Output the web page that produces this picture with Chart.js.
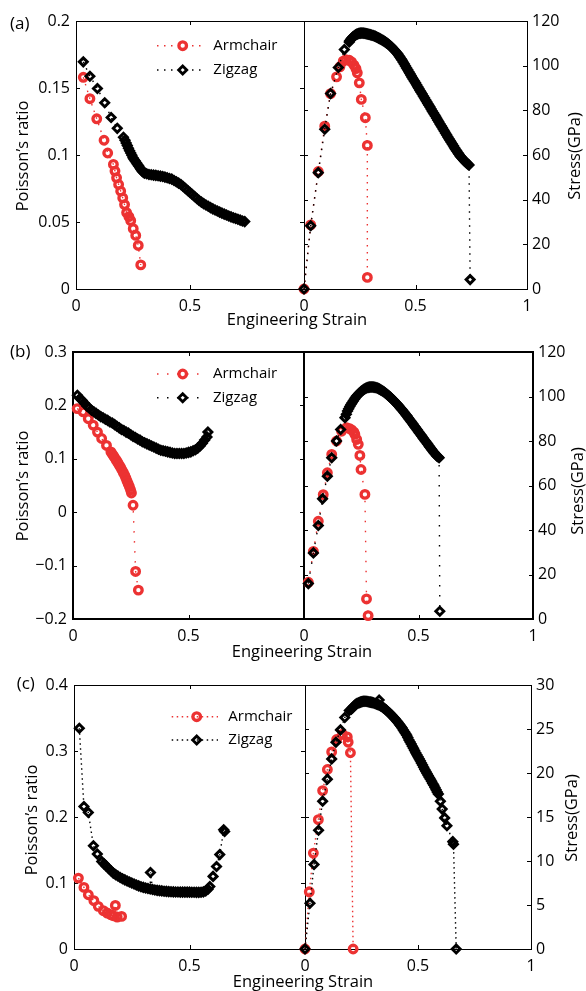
<!DOCTYPE html>
<html><head><meta charset="utf-8"><title>Poisson's ratio and stress versus engineering strain</title>
<script src="https://cdn.jsdelivr.net/npm/chart.js@4.4.1/dist/chart.umd.min.js"></script>
<style>
html,body{margin:0;padding:0;background:#fff;}
body{width:586px;height:991px;position:relative;overflow:hidden;}
canvas{position:absolute;left:0;}
</style></head><body>
<canvas id="pa" width="586" height="330" style="top:0px"></canvas>
<canvas id="pb" width="586" height="335" style="top:330px"></canvas>
<canvas id="pc" width="586" height="326" style="top:665px"></canvas>
<script>
// ---------------- data ----------------
const SERIES = ['Armchair', 'Zigzag'];
const STRAIN_TICKS = [0, 0.5, 1];
const A_POIS_TICKS = [0, 0.05, 0.1, 0.15, 0.2];
const A_STRESS_TICKS = [0, 20, 40, 60, 80, 100, 120];
const B_POIS_TICKS = [-0.2, -0.1, 0, 0.1, 0.2, 0.3];
const B_STRESS_TICKS = [0, 20, 40, 60, 80, 100, 120];
const C_POIS_TICKS = [0, 0.1, 0.2, 0.3, 0.4];
const C_STRESS_TICKS = [0, 5, 10, 15, 20, 25, 30];

// (a)
const A_ARM_POIS_X = [0.032,0.061,0.091,0.123,0.139,0.164,0.171,0.178,0.187,0.196,0.205,0.213,0.222,0.232,0.240,0.251,0.262,0.273,0.284];
const A_ARM_POIS_Y = [0.158,0.142,0.127,0.111,0.1015,0.093,0.088,0.083,0.078,0.073,0.068,0.063,0.057,0.054,0.051,0.045,0.040,0.0325,0.018];
const A_ZIG_POIS_X = [0.032,0.061,0.094,0.126,0.154,0.181,0.208,0.215,0.22,0.225,0.23,0.235,0.24,0.245,0.25,0.255,0.26,0.265,0.27,0.275,0.28,0.285,0.29,0.295,0.30,0.31,0.32,0.33,0.34,0.35,0.36,0.37,0.38,0.39,0.40,0.41,0.42,0.43,0.44,0.45,0.46,0.47,0.48,0.49,0.50,0.51,0.52,0.53,0.54,0.55,0.56,0.57,0.58,0.59,0.60,0.61,0.62,0.63,0.64,0.65,0.66,0.67,0.68,0.69,0.70,0.71,0.72,0.73,0.74];
const A_ZIG_POIS_Y = [0.1695,0.1588,0.1496,0.139,0.128,0.1199,0.1132,0.111,0.109,0.107,0.105,0.1032,0.1015,0.0998,0.098,0.0967,0.0955,0.0942,0.093,0.0917,0.0905,0.0892,0.088,0.0871,0.0865,0.086,0.0855,0.0853,0.085,0.0848,0.0845,0.0842,0.084,0.0835,0.083,0.0825,0.082,0.081,0.080,0.079,0.078,0.0765,0.075,0.0735,0.072,0.0705,0.069,0.0675,0.066,0.0648,0.0637,0.0627,0.0617,0.0607,0.0598,0.059,0.0582,0.0574,0.0566,0.0559,0.0552,0.0545,0.0538,0.0532,0.0526,0.052,0.0514,0.0508,0.0503];
const A_ARM_STRESS_X = [0,0.030,0.064,0.093,0.119,0.146,0.161,0.176,0.188,0.203,0.213,0.224,0.233,0.239,0.248,0.257,0.275,0.284,0.284];
const A_ARM_STRESS_Y = [0,28.7,52.6,72.9,87.5,95,99.5,102,102.7,102.4,101.7,100.2,98.7,96.8,92.3,84.9,76.7,64.3,5.2];
const A_ZIG_STRESS_X = [0,0.03,0.064,0.093,0.119,0.154,0.181,0.203,0.205,0.21,0.215,0.22,0.225,0.23,0.235,0.24,0.245,0.25,0.255,0.26,0.265,0.27,0.275,0.28,0.285,0.29,0.295,0.30,0.305,0.31,0.315,0.32,0.325,0.33,0.335,0.34,0.345,0.35,0.355,0.36,0.365,0.37,0.375,0.38,0.385,0.39,0.395,0.40,0.405,0.41,0.415,0.42,0.425,0.43,0.435,0.44,0.445,0.45,0.455,0.46,0.465,0.47,0.475,0.48,0.485,0.49,0.495,0.50,0.505,0.51,0.515,0.52,0.525,0.53,0.535,0.54,0.545,0.55,0.555,0.56,0.565,0.57,0.575,0.58,0.585,0.59,0.595,0.60,0.605,0.61,0.615,0.62,0.625,0.63,0.635,0.64,0.645,0.65,0.655,0.66,0.665,0.67,0.675,0.68,0.685,0.69,0.695,0.70,0.705,0.71,0.715,0.72,0.725,0.73,0.735,0.74,0.745];
const A_ZIG_STRESS_Y = [0,28.3,52.1,71.5,87.5,99.2,107.2,110.6,111.2,111.8,112.4,112.9,113.3,113.7,114.0,114.2,114.4,114.5,114.55,114.6,114.55,114.5,114.4,114.3,114.2,114.1,113.95,113.8,113.65,113.5,113.3,113.1,112.85,112.6,112.35,112.1,111.8,111.5,111.2,110.9,110.55,110.2,109.85,109.5,109.05,108.6,108.1,107.6,107.05,106.5,105.9,105.3,104.6,103.9,103.15,102.4,101.55,100.7,99.85,99.0,98.15,97.3,96.45,95.6,94.75,93.9,93.1,92.3,91.45,90.6,89.75,88.9,88.1,87.3,86.45,85.6,84.75,83.9,83.1,82.3,81.45,80.6,79.75,78.9,78.1,77.3,76.45,75.6,74.75,73.9,73.1,72.3,71.45,70.6,69.75,68.9,68.1,67.3,66.5,65.7,64.9,64.1,63.3,62.5,61.75,61.0,60.3,59.6,59.0,58.4,57.85,57.3,56.8,56.3,55.9,55.5,4.2];

// (b)
const B_ARM_POIS_X = [0.018,0.044,0.066,0.0875,0.106,0.124,0.145,0.164,0.17,0.176,0.182,0.188,0.194,0.2,0.206,0.212,0.218,0.224,0.229,0.234,0.239,0.244,0.249,0.253,0.26,0.271,0.283];
const B_ARM_POIS_Y = [0.194,0.188,0.175,0.163,0.150,0.138,0.125,0.113,0.109,0.105,0.101,0.097,0.093,0.088,0.084,0.079,0.074,0.069,0.064,0.058,0.053,0.048,0.042,0.036,0.013,-0.111,-0.146];
const B_ZIG_POIS_X = [0.019,0.03,0.04,0.05,0.06,0.07,0.08,0.09,0.10,0.11,0.12,0.13,0.14,0.15,0.16,0.17,0.18,0.19,0.20,0.21,0.22,0.23,0.24,0.25,0.26,0.27,0.28,0.29,0.30,0.31,0.32,0.33,0.34,0.35,0.36,0.37,0.38,0.39,0.40,0.41,0.42,0.43,0.44,0.45,0.46,0.47,0.48,0.49,0.50,0.51,0.52,0.53,0.54,0.55,0.56,0.57,0.58,0.584];
const B_ZIG_POIS_Y = [0.219,0.213,0.209,0.204,0.199,0.195,0.191,0.188,0.185,0.182,0.179,0.177,0.174,0.172,0.169,0.167,0.164,0.161,0.158,0.155,0.153,0.150,0.148,0.145,0.142,0.140,0.137,0.135,0.132,0.130,0.128,0.126,0.124,0.122,0.120,0.118,0.116,0.115,0.114,0.113,0.112,0.111,0.110,0.110,0.110,0.110,0.110,0.111,0.112,0.113,0.115,0.117,0.120,0.124,0.129,0.135,0.141,0.150];
const B_ARM_STRESS_X = [0.019,0.041,0.0625,0.084,0.102,0.121,0.142,0.164,0.186,0.2,0.208,0.218,0.222,0.23,0.237,0.244,0.249,0.266,0.273,0.28];
const B_ARM_STRESS_Y = [16.5,30.4,43.9,55.9,65.7,74,80,84.4,86,85.5,85,84,83,80.7,78.5,73.5,67.2,56,9,1.5];
const B_ZIG_STRESS_X = [0.019,0.041,0.0625,0.081,0.102,0.121,0.142,0.16,0.179,0.185,0.19,0.195,0.20,0.205,0.21,0.215,0.22,0.225,0.23,0.235,0.24,0.245,0.25,0.255,0.26,0.265,0.27,0.275,0.28,0.285,0.29,0.295,0.30,0.305,0.31,0.315,0.32,0.325,0.33,0.335,0.34,0.345,0.35,0.355,0.36,0.365,0.37,0.375,0.38,0.385,0.39,0.395,0.40,0.405,0.41,0.415,0.42,0.425,0.43,0.435,0.44,0.445,0.45,0.455,0.46,0.465,0.47,0.475,0.48,0.485,0.49,0.495,0.50,0.505,0.51,0.515,0.52,0.525,0.53,0.535,0.54,0.545,0.55,0.555,0.56,0.565,0.57,0.575,0.58,0.585,0.59,0.593];
const B_ZIG_STRESS_Y = [15.9,29.7,42,54,64.2,72.5,80,85.2,90.5,92.0,93.5,94.5,95.5,96.4,97.2,98.0,98.8,99.5,100.2,100.75,101.3,101.8,102.3,102.7,103.1,103.4,103.7,103.9,104.1,104.2,104.3,104.3,104.3,104.2,104.1,103.95,103.8,103.55,103.3,103.0,102.7,102.35,102.0,101.6,101.2,100.75,100.3,99.85,99.4,98.9,98.4,97.85,97.3,96.75,96.2,95.6,95.0,94.4,93.8,93.15,92.5,91.85,91.2,90.5,89.8,89.1,88.4,87.7,87.0,86.3,85.6,84.9,84.2,83.5,82.8,82.1,81.4,80.7,80.0,79.3,78.6,77.9,77.2,76.5,75.8,75.15,74.5,73.9,73.3,72.9,72.5,3.5];

// (c)
const C_ARM_POIS_X = [0.019,0.043,0.062,0.086,0.105,0.127,0.144,0.159,0.17,0.179,0.187,0.206];
const C_ARM_POIS_Y = [0.1074,0.0933,0.0822,0.0732,0.0646,0.058,0.0545,0.052,0.0504,0.066,0.0484,0.0494];
const C_ZIG_POIS_X = [0.023,0.043,0.062,0.084,0.101,0.12,0.13,0.14,0.15,0.16,0.17,0.18,0.19,0.20,0.21,0.22,0.23,0.24,0.25,0.26,0.27,0.28,0.29,0.30,0.31,0.32,0.33,0.331,0.34,0.35,0.36,0.37,0.38,0.39,0.40,0.41,0.42,0.43,0.44,0.45,0.46,0.47,0.48,0.49,0.50,0.51,0.52,0.53,0.54,0.55,0.56,0.57,0.58,0.588,0.602,0.617,0.631,0.648,0.652];
const C_ZIG_POIS_Y = [0.3344,0.2159,0.2068,0.1564,0.1438,0.1326,0.129,0.1255,0.122,0.1185,0.115,0.1127,0.1105,0.1083,0.1065,0.1048,0.1031,0.1015,0.0999,0.0984,0.097,0.0956,0.0944,0.0933,0.0925,0.0917,0.0909,0.116,0.0902,0.0895,0.0889,0.0884,0.088,0.0876,0.0873,0.087,0.0868,0.0866,0.0864,0.0863,0.0862,0.0862,0.0862,0.0862,0.0861,0.086,0.0859,0.0858,0.0858,0.086,0.0866,0.0878,0.0905,0.0948,0.11,0.125,0.143,0.1806,0.178];
const C_ARM_STRESS_X = [0,0.019,0.037,0.059,0.078,0.099,0.118,0.14,0.166,0.187,0.191,0.201,0.213];
const C_ARM_STRESS_Y = [0,6.5,10.9,14.7,18,20.4,22.4,23.8,24.4,24.1,23.5,22.3,0];
const C_ZIG_STRESS_X = [0,0.022,0.04,0.06,0.078,0.099,0.118,0.137,0.157,0.176,0.196,0.205,0.21,0.215,0.22,0.225,0.23,0.235,0.24,0.245,0.25,0.255,0.26,0.265,0.27,0.275,0.28,0.285,0.29,0.295,0.30,0.305,0.31,0.315,0.32,0.325,0.328,0.33,0.335,0.34,0.345,0.35,0.355,0.36,0.365,0.37,0.375,0.38,0.385,0.39,0.395,0.40,0.405,0.41,0.415,0.42,0.425,0.43,0.435,0.44,0.445,0.45,0.455,0.46,0.465,0.47,0.475,0.48,0.485,0.49,0.495,0.50,0.505,0.51,0.515,0.52,0.525,0.53,0.535,0.54,0.545,0.55,0.555,0.56,0.565,0.57,0.575,0.58,0.585,0.59,0.599,0.607,0.618,0.628,0.654,0.657,0.669];
const C_ZIG_STRESS_Y = [0,5.2,9.6,13.5,16.8,19.3,21.6,23.5,24.9,26.3,27.1,27.25,27.4,27.55,27.7,27.8,27.9,27.95,28.0,28.05,28.1,28.12,28.15,28.15,28.15,28.12,28.1,28.07,28.05,28.02,28.0,27.95,27.9,27.85,27.8,27.75,28.3,27.7,27.62,27.55,27.45,27.35,27.25,27.15,27.02,26.9,26.78,26.65,26.52,26.4,26.25,26.1,25.95,25.8,25.62,25.45,25.28,25.1,24.9,24.7,24.5,24.3,24.02,23.75,23.52,23.3,23.05,22.8,22.55,22.3,22.08,21.85,21.62,21.4,21.15,20.9,20.65,20.4,20.18,19.95,19.72,19.5,19.28,19.05,18.82,18.6,18.35,18.1,17.85,17.6,16.8,15.9,14.9,14.0,12.2,11.9,0];

// ---------------- drawing ----------------
const FONT = "'Open Sans', 'DejaVu Sans', sans-serif";
const RED = '#ec3232';
const BLACK = '#000000';
Chart.defaults.color = '#000';

function pts(xs, ys) { return xs.map((x, i) => ({ x: x, y: ys[i] })); }
function fmt(v) { const s = String(Math.round(Math.abs(v) * 1000) / 1000); return v < 0 ? '\u2212' + s : s; }

const CIRCLE = { pointStyle: 'circle', pointRadius: 3.8, pointBorderWidth: 3.3 };
const DIAMOND = { pointStyle: 'rectRot', pointRadius: 4.0, pointBorderWidth: 2.9 };

function ds(label, data, color, marker, xID, yID, dash, order) {
  return Object.assign({
    label: label, data: data, xAxisID: xID, yAxisID: yID, showLine: true,
    borderColor: color, borderWidth: 1.4, borderDash: dash,
    pointBorderColor: color, pointBackgroundColor: 'rgba(0,0,0,0)',
    backgroundColor: 'rgba(0,0,0,0)', tension: 0, clip: false, order: order
  }, marker);
}

function drawMarker(ctx, kind, x, y, color) {
  ctx.save();
  ctx.strokeStyle = color;
  ctx.beginPath();
  if (kind === 'circle') {
    ctx.lineWidth = CIRCLE.pointBorderWidth;
    ctx.arc(x, y, CIRCLE.pointRadius, 0, Math.PI * 2);
  } else {
    const r = DIAMOND.pointRadius;
    ctx.lineWidth = DIAMOND.pointBorderWidth;
    ctx.moveTo(x - r, y); ctx.lineTo(x, y - r); ctx.lineTo(x + r, y); ctx.lineTo(x, y + r); ctx.closePath();
  }
  ctx.stroke();
  ctx.restore();
}

function deco(g) {
  return {
    id: 'deco',
    beforeDatasetsDraw(chart) {
      const ctx = chart.ctx;
      const s = chart.scales;
      const top = chart.chartArea.top, bottom = chart.chartArea.bottom;
      const off = g.frame % 2 ? 0.5 : 0;
      const R = v => Math.round(v) + off;
      ctx.save();
      ctx.strokeStyle = '#000';
      ctx.lineWidth = 1;
      const TL = 4;
      const line = (x1, y1, x2, y2) => { ctx.beginPath(); ctx.moveTo(x1, y1); ctx.lineTo(x2, y2); ctx.stroke(); };
      const pairs = [[s.xL, s.yL], [s.xR, s.yR]];
      pairs.forEach(([xs, ys]) => {
        ys.ticks.forEach(t => {
          const y = Math.round(ys.getPixelForValue(t.value)) + 0.5;
          line(xs.left, y, xs.left + TL, y);
          line(xs.right - TL, y, xs.right, y);
        });
        xs.ticks.forEach(t => {
          const x = Math.round(xs.getPixelForValue(t.value)) + 0.5;
          line(x, bottom, x, bottom - TL);
          line(x, top, x, top + TL);
        });
      });
      ctx.lineWidth = g.frame;
      pairs.forEach(([xs]) => {
        ctx.strokeRect(R(xs.left), R(top), Math.round(xs.right) - Math.round(xs.left), Math.round(bottom) - Math.round(top));
      });
      ctx.restore();
    },
    afterDraw(chart) {
      const ctx = chart.ctx;
      const T = g.top;
      ctx.save();
      ctx.fillStyle = '#000';
      ctx.font = '17px ' + FONT;
      ctx.textAlign = 'left'; ctx.textBaseline = 'middle';
      ctx.fillText(g.letter, g.letterPos[0], g.letterPos[1] - T);
      ctx.font = '16.5px ' + FONT;
      ctx.textAlign = 'center';
      ctx.fillText('Engineering Strain', g.strainPos[0], g.strainPos[1] - T);
      [[g.poisPos, 'Poisson\u2019s ratio'], [g.stressPos, 'Stress(GPa)']].forEach(([p, txt]) => {
        ctx.save();
        ctx.translate(p[0], p[1] - T);
        ctx.rotate(-Math.PI / 2);
        ctx.fillText(txt, 0, 0);
        ctx.restore();
      });
      const kinds = [['circle', RED], ['diamond', BLACK]];
      ctx.font = '15px ' + FONT;
      ctx.textAlign = 'left';
      SERIES.forEach((name, i) => {
        const y = g.legRows[i] - T;
        ctx.save();
        ctx.strokeStyle = kinds[i][1];
        ctx.lineWidth = 1.4;
        ctx.setLineDash(g.dash);
        ctx.beginPath(); ctx.moveTo(g.legLine[0], y); ctx.lineTo(g.legLine[1], y); ctx.stroke();
        ctx.restore();
        drawMarker(ctx, kinds[i][0], g.legMarker, y, kinds[i][1]);
        ctx.fillText(name, g.legText, y);
      });
      ctx.restore();
    }
  };
}

function makePanel(id, g, d) {
  const tickFont = { family: FONT, size: 16 };
  const common = { grid: { display: false, drawTicks: false }, border: { display: false } };
  const ticksFrom = arr => (sc => { sc.ticks = arr.map(v => ({ value: v })); });
  new Chart(document.getElementById(id), {
    type: 'scatter',
    data: {
      datasets: [
        ds(SERIES[1], pts(d.zpx, d.zpy), BLACK, DIAMOND, 'xL', 'yL', g.dash, 0),
        ds(SERIES[0], pts(d.apx, d.apy), RED, CIRCLE, 'xL', 'yL', g.dash, 1),
        ds(SERIES[1], pts(d.zsx, d.zsy), BLACK, DIAMOND, 'xR', 'yR', g.dash, 0),
        ds(SERIES[0], pts(d.asx, d.asy), RED, CIRCLE, 'xR', 'yR', g.dash, 1)
      ]
    },
    options: {
      responsive: false, animation: false, devicePixelRatio: 1,
      layout: { padding: { top: g.areaTop - g.top, left: 0, right: 0, bottom: 0 } },
      plugins: { legend: { display: false }, tooltip: { enabled: false } },
      events: [],
      scales: {
        xL: Object.assign({
          type: 'linear', position: 'bottom', stack: 'x', stackWeight: g.mid - g.left, min: 0, max: 1,
          afterBuildTicks: ticksFrom(STRAIN_TICKS),
          afterFit: sc => { sc.height = g.top + g.h - g.areaBottom; },
          ticks: { autoSkip: false, maxRotation: 0, padding: 7.5, font: tickFont, color: '#000',
            callback: v => (v === 1 ? '' : fmt(v)) }
        }, common),
        xR: Object.assign({
          type: 'linear', position: 'bottom', stack: 'x', stackWeight: g.right - g.mid, min: 0, max: 1,
          afterBuildTicks: ticksFrom(STRAIN_TICKS),
          afterFit: sc => { sc.height = g.top + g.h - g.areaBottom; },
          ticks: { autoSkip: false, maxRotation: 0, padding: 7.5, font: tickFont, color: '#000', callback: v => fmt(v) }
        }, common),
        yL: Object.assign({
          type: 'linear', position: 'left', min: d.pt[0], max: d.pt[d.pt.length - 1],
          afterBuildTicks: ticksFrom(d.pt),
          afterFit: sc => { sc.width = g.left; },
          ticks: { autoSkip: false, padding: 6, font: tickFont, color: '#000', callback: v => fmt(v) }
        }, common),
        yR: Object.assign({
          type: 'linear', position: 'right', min: d.st[0], max: d.st[d.st.length - 1],
          afterBuildTicks: ticksFrom(d.st),
          afterFit: sc => { sc.width = 586 - g.right; },
          ticks: { autoSkip: false, padding: 5, font: tickFont, color: '#000', callback: v => fmt(v) }
        }, common)
      }
    },
    plugins: [deco(g)]
  });
}

makePanel('pa', {
  top: 0, h: 330, areaTop: 21, areaBottom: 289, left: 76, mid: 304, right: 527, frame: 1,
  letter: '(a)', letterPos: [10, 24], poisPos: [23.5, 156], stressPos: [575.5, 156], strainPos: [297, 320],
  legRows: [45.7, 70], legMarker: 182.7, legLine: [157, 202], legText: 213.3, dash: [1.5, 5.5]
}, { apx: A_ARM_POIS_X, apy: A_ARM_POIS_Y, zpx: A_ZIG_POIS_X, zpy: A_ZIG_POIS_Y,
     asx: A_ARM_STRESS_X, asy: A_ARM_STRESS_Y, zsx: A_ZIG_STRESS_X, zsy: A_ZIG_STRESS_Y,
     pt: A_POIS_TICKS, st: A_STRESS_TICKS });

makePanel('pb', {
  top: 330, h: 335, areaTop: 352, areaBottom: 619, left: 73, mid: 304, right: 533, frame: 2,
  letter: '(b)', letterPos: [10, 352], poisPos: [23, 486], stressPos: [578.5, 491], strainPos: [302, 652],
  legRows: [374, 397.7], legMarker: 182.7, legLine: [157, 203], legText: 213, dash: [1.5, 8.5]
}, { apx: B_ARM_POIS_X, apy: B_ARM_POIS_Y, zpx: B_ZIG_POIS_X, zpy: B_ZIG_POIS_Y,
     asx: B_ARM_STRESS_X, asy: B_ARM_STRESS_Y, zsx: B_ZIG_STRESS_X, zsy: B_ZIG_STRESS_Y,
     pt: B_POIS_TICKS, st: B_STRESS_TICKS });

makePanel('pc', {
  top: 665, h: 326, areaTop: 685, areaBottom: 949, left: 74, mid: 305, right: 531, frame: 1,
  letter: '(c)', letterPos: [16.7, 684], poisPos: [32, 820], stressPos: [572.5, 818], strainPos: [303, 982],
  legRows: [716.7, 740], legMarker: 196.7, legLine: [171.7, 218], legText: 228.3, dash: [1.5, 3.5]
}, { apx: C_ARM_POIS_X, apy: C_ARM_POIS_Y, zpx: C_ZIG_POIS_X, zpy: C_ZIG_POIS_Y,
     asx: C_ARM_STRESS_X, asy: C_ARM_STRESS_Y, zsx: C_ZIG_STRESS_X, zsy: C_ZIG_STRESS_Y,
     pt: C_POIS_TICKS, st: C_STRESS_TICKS });
</script>
</body></html>
